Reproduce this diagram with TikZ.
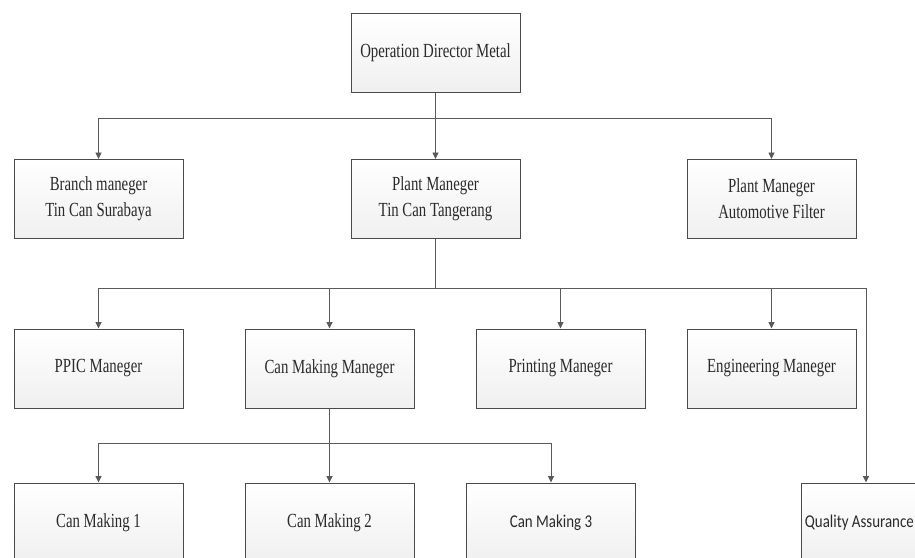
\documentclass[tikz,border=0pt]{standalone}
\usepackage{fontspec}
\setmainfont[FakeStretch=0.74]{Liberation Serif}
\newfontfamily\labelsans[FakeStretch=0.83]{Carlito}
\usetikzlibrary{arrows.meta}

\definecolor{boxedge}{HTML}{4A4A4A}
\definecolor{wire}{HTML}{5A5A5A}
\definecolor{ink}{HTML}{2A2A2A}

\tikzset{
  orgbox/.style={draw=boxedge, line width=1pt, top color=white, bottom color=black!6,
    minimum width=169pt, minimum height=79pt, inner sep=0pt, align=center,
    text=ink, font=\fontsize{20pt}{26pt}\selectfont},
  sansbox/.style={orgbox, font=\labelsans\fontsize{18pt}{22pt}\selectfont},
  sanslabel/.style={inner sep=0pt, text=ink, font=\labelsans\fontsize{18pt}{22pt}\selectfont},
  wireline/.style={draw=wire, line width=0.9pt},
  feed/.style={wireline, -{Triangle[length=6.5pt,width=6pt]}},
}

\begin{document}
\begin{tikzpicture}[x=1pt, y=-1pt]
  \useasboundingbox (0,0) rectangle (915,557);
  \clip (0,0) rectangle (915,557);
  \fill[white] (0,0) rectangle (915,557);

  % top level
  \node[orgbox] (dir) at (435.5,52.5) {Operation Director Metal};

  % second level
  \node[orgbox] (branch) at (98.5,199) {Branch maneger\\Tin Can Surabaya};
  \node[orgbox] (plant)  at (435.5,199) {Plant Maneger\\Tin Can Tangerang};
  \node[orgbox] (auto)   at (771.5,199) {Plant Maneger\\Automotive Filter};

  % third level
  \node[orgbox] (ppic)  at (98.5,368.5) {PPIC Maneger};
  \node[orgbox] (canmm) at (329.5,368.5) {Can Making Maneger};
  \node[orgbox] (print) at (560.5,368.5) {Printing Maneger};
  \node[orgbox] (eng)   at (771.5,368.5) {Engineering Maneger};

  % fourth level
  \node[orgbox]  (cm1) at (98.5,522.5) {Can Making 1};
  \node[orgbox]  (cm2) at (329.5,522.5) {Can Making 2};
  \node[sansbox] (cm3) at (551,522.5) {Can Making 3};
  \node[orgbox, minimum width=130pt] (qa) at (866,522.5) {};
  \node[sanslabel, anchor=east] (qalabel) at (914,522.5) {Quality Assurance};

  % bus junctions
  \coordinate (busA) at (435.5,118);
  \coordinate (busB) at (435.5,288);
  \coordinate (busC) at (329.5,443);

  % director to second level
  \draw[wireline] (dir.south) -- (busA);
  \draw[feed] (busA) -| (branch.north);
  \draw[feed] (busA) -- (plant.north);
  \draw[feed] (busA) -| (auto.north);

  % plant manager to departments
  \draw[wireline] (plant.south) -- (busB);
  \draw[feed] (busB) -| (ppic.north);
  \draw[feed] (busB) -| (canmm.north);
  \draw[feed] (busB) -| (print.north);
  \draw[feed] (busB) -| (eng.north);
  \draw[feed] (busB) -| (qa.north);

  % can making manager to lines
  \draw[wireline] (canmm.south) -- (busC);
  \draw[feed] (busC) -| (cm1.north);
  \draw[feed] (busC) -- (cm2.north);
  \draw[feed] (busC) -| (cm3.north);
\end{tikzpicture}
\end{document}
